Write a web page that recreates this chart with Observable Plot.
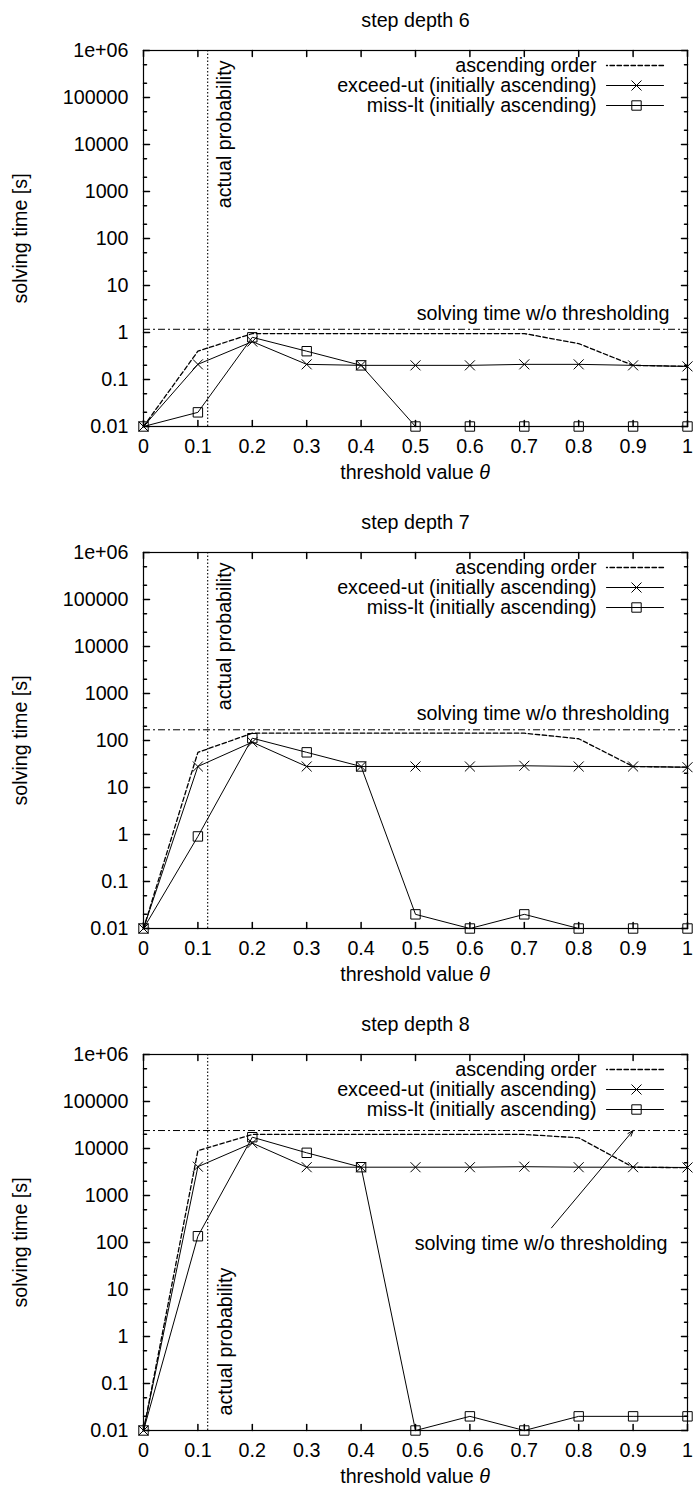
<!DOCTYPE html>
<html><head><meta charset="utf-8">
<script src="https://cdn.jsdelivr.net/npm/d3@7"></script>
<script src="https://cdn.jsdelivr.net/npm/@observablehq/plot@0.6"></script>
<style>
body{margin:0;background:#fff;}
#chart svg{display:block;}
</style></head><body><div id="chart"></div>
<script>
// ---- data ----
const thresholds = [0, 0.1, 0.2, 0.3, 0.4, 0.5, 0.6, 0.7, 0.8, 0.9, 1];
const xTickLabels = ["0", "0.1", "0.2", "0.3", "0.4", "0.5", "0.6", "0.7", "0.8", "0.9", "1"];
const yTicks = [0.01, 0.1, 1, 10, 100, 1000, 10000, 100000, 1000000];
const yTickLabels = ["0.01", "0.1", "1", "10", "100", "1000", "10000", "100000", "1e+06"];
const yMinorTicks = [0.02, 0.05, 0.2, 0.5, 2, 5, 20, 50, 200, 500, 2000, 5000, 20000, 50000, 200000, 500000];
const stepDepths = [6, 7, 8];
const seriesNames = ["ascending order", "exceed-ut (initially ascending)", "miss-lt (initially ascending)"];

const ascending6 = [0.01, 0.40, 0.95, 0.95, 0.95, 0.95, 0.95, 0.95, 0.58, 0.20, 0.19];
const exceedUt6  = [0.01, 0.21, 0.64, 0.21, 0.20, 0.20, 0.20, 0.21, 0.21, 0.20, 0.19];
const missLt6    = [0.01, 0.02, 0.79, 0.40, 0.20, 0.01, 0.01, 0.01, 0.01, 0.01, 0.01];

const ascending7 = [0.01, 56, 143, 143, 143, 143, 143, 143, 109, 28, 27];
const exceedUt7  = [0.01, 28, 92, 28, 28, 28, 28, 29, 28, 28, 27];
const missLt7    = [0.01, 0.91, 112, 56, 28, 0.02, 0.01, 0.02, 0.01, 0.01, 0.01];

const ascending8 = [0.01, 9000, 19900, 19900, 19900, 19900, 19900, 19900, 16900, 4000, 3900];
const exceedUt8  = [0.01, 4100, 13000, 4000, 4000, 4000, 4000, 4100, 4000, 4000, 3950];
const missLt8    = [0.01, 136, 17400, 8100, 4000, 0.01, 0.02, 0.01, 0.02, 0.02, 0.02];

const withoutThresholding = [1.17, 169, 24100];
const actualProbability = 0.118;
const arrowTail8 = {x: 0.75, y: 205};

const ascending = [ascending6, ascending7, ascending8];
const exceedUt = [exceedUt6, exceedUt7, exceedUt8];
const missLt = [missLt6, missLt7, missLt8];

// ---- helpers ----
const xLabel = new Map(thresholds.map((t, i) => [t, xTickLabels[i]]));
const yLabel = new Map(yTicks.map((t, i) => [t, yTickLabels[i]]));
const tickShape = {draw(ctx, l) { ctx.moveTo(0, 0); ctx.lineTo(0, -l); }};
const timesSymbol = {draw(ctx, size) { const r = Math.sqrt(size / Math.PI); ctx.moveTo(-r, -r); ctx.lineTo(r, r); ctx.moveTo(r, -r); ctx.lineTo(-r, r); }};
const squareSymbol = {draw(ctx, size) { const r = Math.sqrt(size / Math.PI); ctx.rect(-r, -r, 2 * r, 2 * r); }};
const FONT = "'Liberation Sans', Arial, Helvetica, sans-serif";
const DASH = "4.5,2.5";

function panel(p) {
  const last = p === 2;
  const height = last ? 487 : 502;
  const rows = thresholds.map((t, j) => ({t, asc: ascending[p][j], exc: exceedUt[p][j], miss: missLt[p][j]}));
  const wo = withoutThresholding[p];
  const legendMarks = seriesNames.flatMap((name, i) => {
    const dy = 15 + 20 * i;
    const m = [
      Plot.text([name], {text: d => d, frameAnchor: "top-right", dx: -91, dy, textAnchor: "end", lineAnchor: "middle"}),
      Plot.vector([0], {frameAnchor: "top-right", dx: -24, dy, rotate: -90, length: 57, anchor: "start", shape: tickShape, stroke: "black", strokeWidth: i === 0 ? 1.3 : 1, strokeDasharray: i === 0 ? DASH : null})
    ];
    if (i > 0) m.push(Plot.dot([0], {frameAnchor: "top-right", dx: -51, dy, symbol: i === 1 ? timesSymbol : squareSymbol, r: i === 1 ? 5 : 4.7, fill: "none", stroke: "black", strokeWidth: 1}));
    return m;
  });
  const annotation = last ? [
    Plot.arrow([arrowTail8], {x1: "x", y1: "y", x2: () => 0.9, y2: () => wo, stroke: "black", strokeWidth: 1, headLength: 9, headAngle: 40}),
    Plot.text([arrowTail8], {y: "y", text: () => "solving time w/o thresholding", frameAnchor: "right", dx: -20, dy: 16, textAnchor: "end", lineAnchor: "middle"}),
    Plot.text(["actual probability"], {text: d => d, x: () => actualProbability, frameAnchor: "bottom", dx: 18, dy: -15, rotate: -90, textAnchor: "start", lineAnchor: "middle"})
  ] : [
    Plot.text([wo], {y: d => d, text: () => "solving time w/o thresholding", frameAnchor: "right", dx: -18, dy: -16, textAnchor: "end", lineAnchor: "middle"}),
    Plot.text(["actual probability"], {text: d => d, x: () => actualProbability, frameAnchor: "top", dx: 17, dy: 10, rotate: -90, textAnchor: "end", lineAnchor: "middle"})
  ];
  const svg = Plot.plot({
    width: 693, height,
    marginTop: 50, marginBottom: last ? 61 : 76, marginLeft: 143, marginRight: 6,
    style: {fontFamily: FONT, fontSize: "19.7px", color: "black", background: "white", overflow: "visible"},
    x: {domain: [0, 1], label: null},
    y: {type: "log", domain: [0.01, 1e6], label: null},
    marks: [
      Plot.axisX({ticks: thresholds, tickSize: 0, tickPadding: 12, tickFormat: d => xLabel.get(d), label: null}),
      Plot.axisY({ticks: yTicks, tickSize: 0, tickPadding: 15, tickFormat: d => yLabel.get(d), label: null}),
      Plot.vector(thresholds, {x: d => d, frameAnchor: "bottom", rotate: 0, length: 6, anchor: "start", shape: tickShape, stroke: "black"}),
      Plot.vector(thresholds, {x: d => d, frameAnchor: "top", rotate: 180, length: 6, anchor: "start", shape: tickShape, stroke: "black"}),
      Plot.vector(yTicks, {y: d => d, frameAnchor: "left", rotate: 90, length: 6, anchor: "start", shape: tickShape, stroke: "black"}),
      Plot.vector(yTicks, {y: d => d, frameAnchor: "right", rotate: -90, length: 6, anchor: "start", shape: tickShape, stroke: "black"}),
      Plot.vector(yMinorTicks, {y: d => d, frameAnchor: "left", rotate: 90, length: 3, anchor: "start", shape: tickShape, stroke: "black"}),
      Plot.vector(yMinorTicks, {y: d => d, frameAnchor: "right", rotate: -90, length: 3, anchor: "start", shape: tickShape, stroke: "black"}),
      Plot.ruleX([actualProbability], {stroke: "black", strokeWidth: 1.1, strokeDasharray: "1.5,2"}),
      Plot.ruleY([wo], {stroke: "black", strokeWidth: 1, strokeDasharray: "7,3,2,3"}),
      Plot.line(rows, {x: "t", y: "asc", stroke: "black", strokeWidth: 1.3, strokeDasharray: DASH}),
      Plot.line(rows, {x: "t", y: "exc", stroke: "black", strokeWidth: 1}),
      Plot.dot(rows, {x: "t", y: "exc", symbol: timesSymbol, r: 5, fill: "none", stroke: "black", strokeWidth: 1}),
      Plot.line(rows, {x: "t", y: "miss", stroke: "black", strokeWidth: 1}),
      Plot.dot(rows, {x: "t", y: "miss", symbol: squareSymbol, r: 4.7, fill: "none", stroke: "black", strokeWidth: 1}),
      ...legendMarks,
      ...annotation,
      Plot.text([`step depth ${stepDepths[p]}`], {text: d => d, frameAnchor: "top", dy: -30, textAnchor: "middle", lineAnchor: "middle"}),
      Plot.text(["solving time [s]"], {text: d => d, frameAnchor: "left", dx: -123, rotate: -90, textAnchor: "middle", lineAnchor: "middle"}),
      Plot.frame({stroke: "black", strokeWidth: 1.2})
    ]
  });
  // x label with italic theta
  const xs = svg.scale("x");
  const cx = (xs.range[0] + xs.range[1]) / 2;
  const t = d3.select(svg).append("text")
    .attr("x", cx).attr("y", 426 + 53)
    .attr("text-anchor", "middle").attr("fill", "black");
  t.append("tspan").text("threshold value ");
  t.append("tspan").attr("font-style", "italic").text("θ");
  return svg;
}

const root = document.getElementById("chart");
for (let p = 0; p < 3; p++) root.appendChild(panel(p));
</script></body></html>
